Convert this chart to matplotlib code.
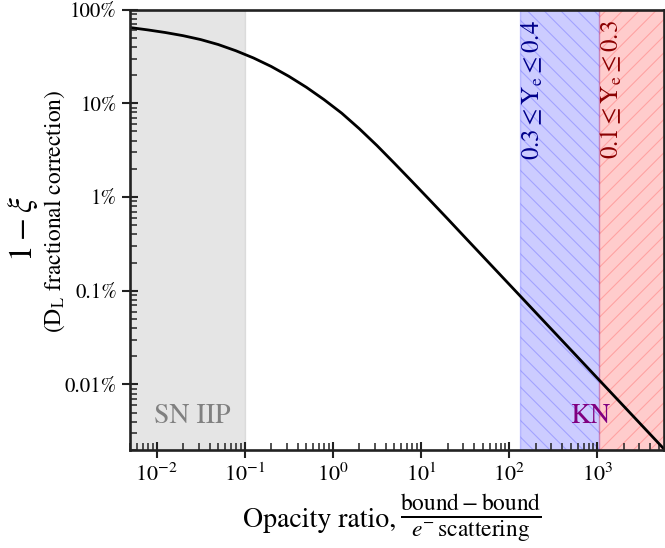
import matplotlib
matplotlib.use('Agg')
import matplotlib.pyplot as plt
import matplotlib.transforms as mtransforms
from matplotlib.ticker import FixedLocator, FixedFormatter, LogLocator, NullFormatter

plt.rcParams['font.family'] = ['STIXGeneral', 'DejaVu Serif']
plt.rcParams['mathtext.fontset'] = 'stix'
plt.rcParams['hatch.linewidth'] = 0.8

# ---- data ----
opacity_ratio = [5.0e-3, 7.94e-3, 0.01259, 0.01995, 0.03162, 0.0501, 0.0794,
                 0.1259, 0.1995, 0.3162, 0.501, 0.794, 1.259, 1.995, 3.162,
                 5.01, 7.94, 12.59, 19.95, 31.6, 125.9, 398.0, 5700.0]
correction = [0.642, 0.606, 0.568, 0.526, 0.478, 0.423, 0.363, 0.304, 0.247,
              0.194, 0.148, 0.1093, 0.0784, 0.0535, 0.0354, 0.0228, 0.01457,
              0.00926, 0.00587, 0.00370, 9.30e-4, 2.94e-4, 2.05e-5]

sn_band = (1e-3, 0.1)
kn_blue_band = (133.0, 1050.0)
kn_red_band = (1050.0, 1e4)

ytick_vals = [1e-4, 1e-3, 1e-2, 1e-1, 1.0]
ytick_labels = ['0.01%', '0.1%', '1%', '10%', '100%']
xtick_vals = [1e-2, 1e-1, 1e0, 1e1, 1e2, 1e3]
xtick_labels = [r'$10^{-2}$', r'$10^{-1}$', r'$10^{0}$', r'$10^{1}$', r'$10^{2}$', r'$10^{3}$']

xlim = (5e-3, 5.7e3)
ylim = (2e-5, 1.0)

W, H = 665, 548
fig = plt.figure(figsize=(W / 100, H / 100), dpi=100)
ax = fig.add_axes([130 / W, 1 - 450 / H, (664 - 130) / W, (450 - 9.5) / H])
ax.set_xscale('log')
ax.set_yscale('log')

ax.axvspan(*sn_band, color='gray', alpha=0.2, zorder=1)
ax.axvspan(*kn_blue_band, color='blue', alpha=0.2, hatch='\\\\', zorder=1)
ax.axvspan(*kn_red_band, color='red', alpha=0.2, hatch='//', zorder=1)

ax.plot(opacity_ratio, correction, color='black', lw=2.0, zorder=3,
        solid_joinstyle='round')

ax.set_xlim(*xlim)
ax.set_ylim(*ylim)

ax.yaxis.set_major_locator(FixedLocator(ytick_vals))
ax.yaxis.set_major_formatter(FixedFormatter(ytick_labels))
ax.yaxis.set_minor_locator(LogLocator(base=10, subs=range(2, 10), numticks=20))
ax.yaxis.set_minor_formatter(NullFormatter())
ax.xaxis.set_major_locator(FixedLocator(xtick_vals))
ax.xaxis.set_major_formatter(FixedFormatter(xtick_labels))
ax.xaxis.set_minor_locator(LogLocator(base=10, subs=range(2, 10), numticks=20))
ax.xaxis.set_minor_formatter(NullFormatter())

for s in ax.spines.values():
    s.set_linewidth(1.9)
    s.set_color('#222222')
    s.set_zorder(5)

ax.tick_params(which='major', direction='inout', length=12, width=1.5,
               color='#222222', top=False, right=False)
ax.tick_params(which='minor', direction='in', length=5, width=1.1,
               color='#222222', top=False, right=False)
ax.tick_params(axis='y', which='major', labelsize=15, pad=3.5)
ax.tick_params(axis='x', which='major', labelsize=16, pad=4)

# band annotations
ax.text(9.25e-3, 3.87e-5, 'SN IIP', color='gray', fontsize=20,
        ha='left', va='baseline', zorder=4)
ax.text(823, 3.87e-5, 'KN', color='purple', fontsize=20,
        ha='center', va='baseline', zorder=4)
trans = mtransforms.blended_transform_factory(ax.transData, ax.transAxes)
ax.text(182, 0.976, r'$0.3 \leq \mathrm{Y_e} \leq 0.4$', color='darkblue',
        fontsize=18, rotation=90, ha='center', va='top', transform=trans, zorder=4)
ax.text(1459, 0.976, r'$0.1 \leq \mathrm{Y_e} \leq 0.3$', color='darkred',
        fontsize=18, rotation=90, ha='center', va='top', transform=trans, zorder=4)

# axis labels
fig.text(22.5 / W, 1 - 229 / H, r'$1-\xi$', fontsize=24, rotation=90,
         ha='center', va='center')
fig.text(55 / W, 1 - 211 / H, r'(D$_\mathrm{L}$ fractional correction)',
         fontsize=17, rotation=90, ha='center', va='center')
fig.text(396 / W, 1 - 527 / H, 'Opacity ratio,', fontsize=20,
         ha='right', va='baseline')
fig.text(400 / W, 1 - 518.5 / H,
         r'$\frac{\mathrm{bound}-\mathrm{bound}}{e^{-}\,\mathrm{scattering}}$',
         fontsize=24, ha='left', va='center')

fig.savefig('out.png', dpi=100)
